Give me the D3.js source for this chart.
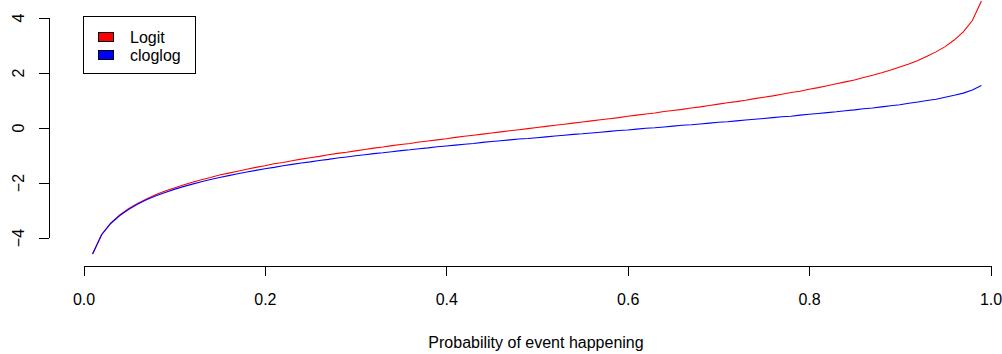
<!DOCTYPE html>
<html>
<head>
<meta charset="utf-8">
<script src="https://cdn.jsdelivr.net/npm/d3@7"></script>
<style>
  body { margin: 0; background: #fff; }
  svg { display: block; font-family: "Liberation Sans", Arial, sans-serif; }
</style>
</head>
<body>
<svg width="1002" height="354"></svg>
<script>
// probability grid (x), step 0.01
const probs = [
  0.01,0.02,0.03,0.04,0.05,0.06,0.07,0.08,0.09,0.10,
  0.11,0.12,0.13,0.14,0.15,0.16,0.17,0.18,0.19,0.20,
  0.21,0.22,0.23,0.24,0.25,0.26,0.27,0.28,0.29,0.30,
  0.31,0.32,0.33,0.34,0.35,0.36,0.37,0.38,0.39,0.40,
  0.41,0.42,0.43,0.44,0.45,0.46,0.47,0.48,0.49,0.50,
  0.51,0.52,0.53,0.54,0.55,0.56,0.57,0.58,0.59,0.60,
  0.61,0.62,0.63,0.64,0.65,0.66,0.67,0.68,0.69,0.70,
  0.71,0.72,0.73,0.74,0.75,0.76,0.77,0.78,0.79,0.80,
  0.81,0.82,0.83,0.84,0.85,0.86,0.87,0.88,0.89,0.90,
  0.91,0.92,0.93,0.94,0.95,0.96,0.97,0.98,0.99
];

// red curve
const logitVals = [
  -4.60,-3.89,-3.48,-3.18,-2.94,-2.75,-2.59,-2.44,-2.31,-2.20,
  -2.09,-1.99,-1.90,-1.82,-1.73,-1.66,-1.59,-1.52,-1.45,-1.39,
  -1.32,-1.27,-1.21,-1.15,-1.10,-1.05,-0.99,-0.94,-0.90,-0.85,
  -0.80,-0.75,-0.71,-0.66,-0.62,-0.58,-0.53,-0.49,-0.45,-0.41,
  -0.36,-0.32,-0.28,-0.24,-0.20,-0.16,-0.12,-0.08,-0.04,0.00,
  0.04,0.08,0.12,0.16,0.20,0.24,0.28,0.32,0.36,0.41,
  0.45,0.49,0.53,0.58,0.62,0.66,0.71,0.75,0.80,0.85,
  0.90,0.94,0.99,1.05,1.10,1.15,1.21,1.27,1.32,1.39,
  1.45,1.52,1.59,1.66,1.73,1.82,1.90,1.99,2.09,2.20,
  2.31,2.44,2.59,2.75,2.94,3.18,3.48,3.89,4.60
];

// blue curve
const cloglogVals = [
  -4.60,-3.90,-3.49,-3.20,-2.97,-2.78,-2.62,-2.48,-2.36,-2.25,
  -2.15,-2.06,-1.97,-1.89,-1.82,-1.75,-1.68,-1.62,-1.56,-1.50,
  -1.45,-1.39,-1.34,-1.29,-1.25,-1.20,-1.16,-1.11,-1.07,-1.03,
  -0.99,-0.95,-0.92,-0.88,-0.84,-0.81,-0.77,-0.74,-0.70,-0.67,
  -0.64,-0.61,-0.58,-0.54,-0.51,-0.48,-0.45,-0.42,-0.40,-0.37,
  -0.34,-0.31,-0.28,-0.25,-0.23,-0.20,-0.17,-0.14,-0.11,-0.09,
  -0.06,-0.03,-0.01,0.02,0.05,0.08,0.10,0.13,0.16,0.19,
  0.21,0.24,0.27,0.30,0.33,0.36,0.39,0.41,0.45,0.48,
  0.51,0.54,0.57,0.61,0.64,0.68,0.71,0.75,0.79,0.83,
  0.88,0.93,0.98,1.03,1.10,1.17,1.25,1.36,1.53
];

const xTicks = [0, 0.2, 0.4, 0.6, 0.8, 1.0];
const yTicks = [-4, -2, 0, 2, 4];
const seriesNames = ["Logit", "cloglog"];
const seriesColors = ["#ff0000", "#0000ff"];

const svg = d3.select("svg");

const x = d3.scaleLinear().domain([0, 1]).range([83.5, 990.5]);
const y = d3.scaleLinear().domain([-4, 4]).range([237.5, 17.5]);

function styleAxis(g) {
  g.selectAll("path, line").attr("stroke", "#000").attr("stroke-width", 1)
   .attr("shape-rendering", "crispEdges");
  g.selectAll("text").attr("fill", "#000").style("font-size", "16px");
}

// x axis
const xAxis = svg.append("g")
  .attr("transform", "translate(0,265.5)")
  .call(d3.axisBottom(x).tickValues(xTicks).tickFormat(d3.format(".1f"))
        .tickSize(10).tickSizeOuter(0));
xAxis.selectAll("text").attr("y", 39).attr("dy", 0);
styleAxis(xAxis);

// y axis, labels turned like R's default las=0
const yAxis = svg.append("g")
  .attr("transform", "translate(48.5,0)")
  .call(d3.axisLeft(y).tickValues(yTicks).tickFormat(d3.format("d"))
        .tickSize(10).tickSizeOuter(0));
yAxis.selectAll("text")
  .attr("transform", "rotate(-90)")
  .attr("x", 0).attr("y", -25).attr("dy", 0)
  .attr("text-anchor", "middle");
styleAxis(yAxis);

svg.append("text")
  .attr("x", 536).attr("y", 348)
  .attr("text-anchor", "middle")
  .style("font-size", "16px")
  .attr("fill", "#000")
  .text("Probability of event happening");

// curves
const line = d3.line()
  .x((d, i) => x(probs[i]))
  .y(d => y(d));

[logitVals, cloglogVals].forEach((vals, i) => {
  svg.append("path")
    .datum(vals)
    .attr("fill", "none")
    .attr("stroke", seriesColors[i])
    .attr("stroke-width", 1.1)
    .attr("d", line);
});

// legend
const legend = svg.append("g").attr("transform", "translate(83.5,16.5)");
legend.append("rect")
  .attr("width", 112).attr("height", 57)
  .attr("fill", "#fff").attr("stroke", "#000")
  .attr("shape-rendering", "crispEdges");

const item = legend.selectAll(".item")
  .data(seriesNames)
  .enter().append("g")
  .attr("class", "item")
  .attr("transform", (d, i) => "translate(0," + (20 + i * 18) + ")");

item.append("rect")
  .attr("x", 15).attr("y", -4.5)
  .attr("width", 15).attr("height", 9)
  .attr("fill", (d, i) => seriesColors[i])
  .attr("stroke", "#000")
  .attr("shape-rendering", "crispEdges");

item.append("text")
  .attr("x", 46.5).attr("y", 6.5)
  .style("font-size", "16px")
  .attr("fill", "#000")
  .text(d => d);
</script>
</body>
</html>
